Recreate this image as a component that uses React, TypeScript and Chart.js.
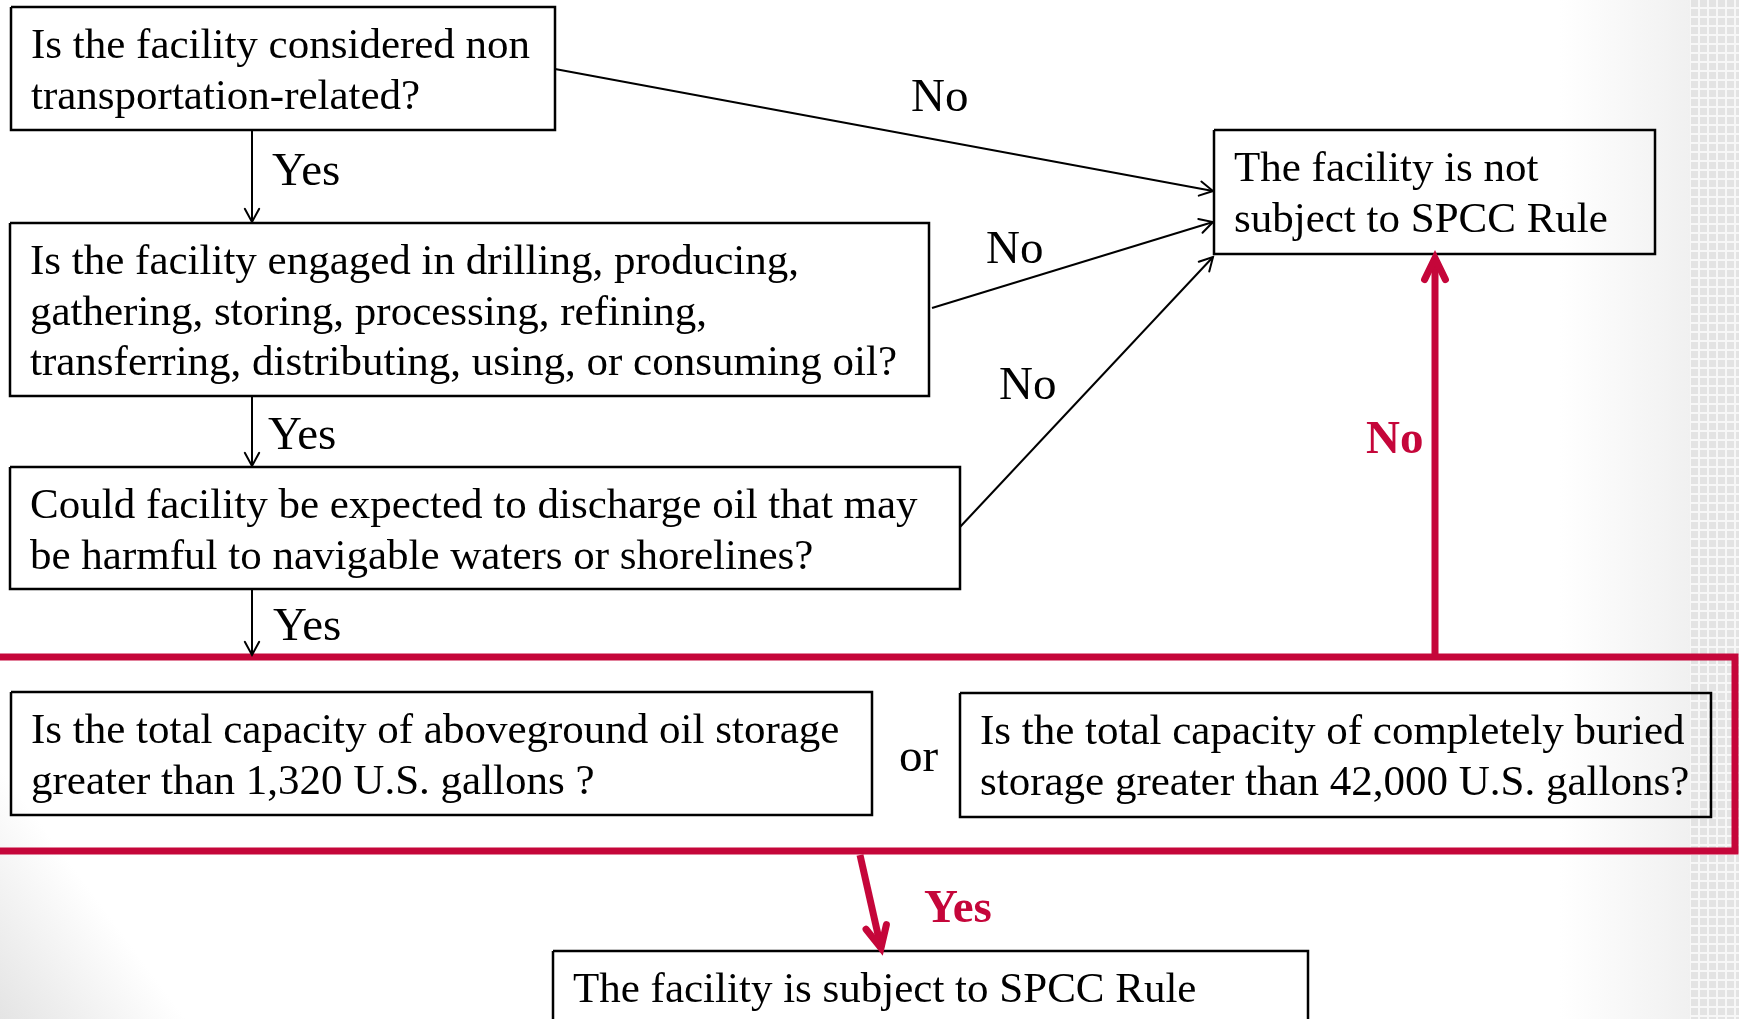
import { useEffect, useRef } from "react";
import { Chart, registerables } from "chart.js";

Chart.register(...registerables);

const W = 1739;
const H = 1019;

// ---- Flowchart nodes ----
const boxTexts: string[][] = [
  ["Is the facility considered non", "transportation-related?"],
  [
    "Is the facility engaged in drilling, producing,",
    "gathering, storing, processing, refining,",
    "transferring, distributing, using, or consuming oil?",
  ],
  ["Could facility be expected to discharge oil that may", "be harmful to navigable waters or shorelines?"],
  ["Is the total capacity of aboveground oil storage", "greater than 1,320 U.S. gallons ?"],
  ["Is the total capacity of completely buried", "storage greater than 42,000 U.S. gallons?"],
  ["The facility is not", "subject to SPCC Rule"],
  ["The facility is subject to SPCC Rule"],
];
const boxLeft = [11, 10, 10, 11, 960, 1214, 553];
const boxTop = [7, 223, 467, 692, 693, 130, 951];
const boxRight = [555, 929, 960, 872, 1711, 1655, 1308];
const boxBottom = [130, 396, 589, 815, 817, 254, 1060];

// ---- Connectors [x1, y1, x2, y2] ----
const blackEdges: number[][] = [
  [555, 69, 1213, 191],
  [932, 308, 1213, 222],
  [960, 527, 1213, 257],
  [252, 130, 252, 222],
  [252, 396, 252, 466],
  [252, 589, 252, 655],
];
const redEdges: number[][] = [
  [1435, 654, 1435, 258],
  [860, 855, 881, 948],
];
const frameX = [-20, 1735, 1735, -20, -20];
const frameY = [657, 657, 851, 851, 657];

// ---- Labels ----
const labelTexts = ["Yes", "Yes", "Yes", "No", "No", "No", "or"];
const labelX = [272, 268, 273, 911, 986, 999, 899];
const labelY = [185, 449, 640, 111, 263, 399, 771];
const redLabelTexts = ["No", "Yes"];
const redLabelX = [1366, 924];
const redLabelY = [453, 922];

const RED = "#c5063a";
const FONT = "'Liberation Serif', 'Times New Roman', serif";

export default function App() {
  const ref = useRef<HTMLCanvasElement>(null);

  useEffect(() => {
    const canvas = ref.current;
    if (!canvas) return;

    const datasets: any[] = [];
    boxLeft.forEach((l, i) => {
      const t = boxTop[i], r = boxRight[i], b = boxBottom[i];
      datasets.push({
        data: [
          { x: l, y: t }, { x: r, y: t }, { x: r, y: b }, { x: l, y: b }, { x: l, y: t },
        ],
        borderColor: "#000",
        borderWidth: 2.5,
        pointRadius: 0,
        tension: 0,
        fill: false,
        borderJoinStyle: "miter",
      });
    });
    blackEdges.forEach((e) => {
      datasets.push({
        data: [{ x: e[0], y: e[1] }, { x: e[2], y: e[3] }],
        borderColor: "#000",
        borderWidth: 2,
        pointRadius: 0,
        fill: false,
      });
    });
    redEdges.forEach((e) => {
      datasets.push({
        data: [{ x: e[0], y: e[1] }, { x: e[2], y: e[3] }],
        borderColor: RED,
        borderWidth: 7,
        pointRadius: 0,
        fill: false,
      });
    });
    datasets.push({
      data: frameX.map((x, i) => ({ x, y: frameY[i] })),
      borderColor: RED,
      borderWidth: 7,
      pointRadius: 0,
      fill: false,
      borderJoinStyle: "miter",
    });

    const bgPlugin = {
      id: "bg",
      beforeDraw(chart: any) {
        const ctx = chart.ctx as CanvasRenderingContext2D;
        ctx.save();
        ctx.fillStyle = "#ffffff";
        ctx.fillRect(0, 0, W, H);
        const g = ctx.createLinearGradient(120, 930, 0, 1019);
        g.addColorStop(0, "rgba(228,228,228,0)");
        g.addColorStop(1, "rgba(228,228,228,1)");
        ctx.fillStyle = g;
        ctx.fillRect(0, 750, 400, H - 750);
        const g2 = ctx.createLinearGradient(1560, 0, 1692, 0);
        g2.addColorStop(0, "rgba(240,240,240,0)");
        g2.addColorStop(1, "rgba(240,240,240,1)");
        ctx.fillStyle = g2;
        ctx.fillRect(1560, 0, 132, H);
        ctx.fillStyle = "#f7f7f7";
        ctx.fillRect(1690, 0, W - 1690, H);
        ctx.fillStyle = "#e3e3e3";
        for (let x = 1691; x < W; x += 9) {
          for (let y = 0; y < H; y += 9) {
            ctx.fillRect(x, y, 7, 7);
          }
        }
        ctx.restore();
      },
    };

    const arrowPlugin = {
      id: "arrows",
      afterDatasetsDraw(chart: any) {
        const ctx = chart.ctx as CanvasRenderingContext2D;
        const xs = chart.scales.x, ys = chart.scales.y;
        const head = (e: number[], color: string, len: number, lw: number, ang: number) => {
          const x1 = xs.getPixelForValue(e[0]), y1 = ys.getPixelForValue(e[1]);
          const x2 = xs.getPixelForValue(e[2]), y2 = ys.getPixelForValue(e[3]);
          const a = Math.atan2(y2 - y1, x2 - x1);
          ctx.save();
          ctx.strokeStyle = color;
          ctx.lineWidth = lw;
          ctx.lineCap = "round";
          ctx.lineJoin = "miter";
          ctx.beginPath();
          ctx.moveTo(x2 - len * Math.cos(a - ang), y2 - len * Math.sin(a - ang));
          ctx.lineTo(x2, y2);
          ctx.lineTo(x2 - len * Math.cos(a + ang), y2 - len * Math.sin(a + ang));
          ctx.stroke();
          ctx.restore();
        };
        blackEdges.forEach((e) => head(e, "#000", 15, 2, 0.5));
        redEdges.forEach((e) => head(e, RED, 24, 7, 0.45));
      },
    };

    const textPlugin = {
      id: "texts",
      afterDraw(chart: any) {
        const ctx = chart.ctx as CanvasRenderingContext2D;
        const xs = chart.scales.x, ys = chart.scales.y;
        ctx.save();
        ctx.textBaseline = "alphabetic";
        ctx.textAlign = "left";
        ctx.fillStyle = "#000";
        ctx.font = `43px ${FONT}`;
        boxTexts.forEach((lines, i) => {
          lines.forEach((s, j) => {
            ctx.fillText(
              s,
              xs.getPixelForValue(boxLeft[i] + 20),
              ys.getPixelForValue(boxTop[i] + 51 + j * 50.5)
            );
          });
        });
        ctx.font = `47px ${FONT}`;
        labelTexts.forEach((s, i) => {
          ctx.fillText(s, xs.getPixelForValue(labelX[i]), ys.getPixelForValue(labelY[i]));
        });
        ctx.fillStyle = RED;
        ctx.font = `bold 47px ${FONT}`;
        redLabelTexts.forEach((s, i) => {
          ctx.fillText(s, xs.getPixelForValue(redLabelX[i]), ys.getPixelForValue(redLabelY[i]));
        });
        ctx.restore();
      },
    };

    const chart = new Chart(canvas, {
      type: "scatter",
      data: { datasets },
      options: {
        animation: false,
        responsive: false,
        events: [],
        showLine: true,
        layout: { padding: 0 },
        plugins: { legend: { display: false }, tooltip: { enabled: false } },
        scales: {
          x: { type: "linear", min: 0, max: W, display: false },
          y: { type: "linear", min: 0, max: H, reverse: true, display: false },
        },
        elements: { line: { tension: 0 } },
      } as any,
      plugins: [bgPlugin, arrowPlugin, textPlugin],
    });
    return () => chart.destroy();
  }, []);

  return (
    <div style={{ position: "fixed", left: 0, top: 0, width: W, height: H, overflow: "hidden" }}>
      <canvas ref={ref} width={W} height={H} style={{ display: "block", width: W, height: H }} />
    </div>
  );
}
